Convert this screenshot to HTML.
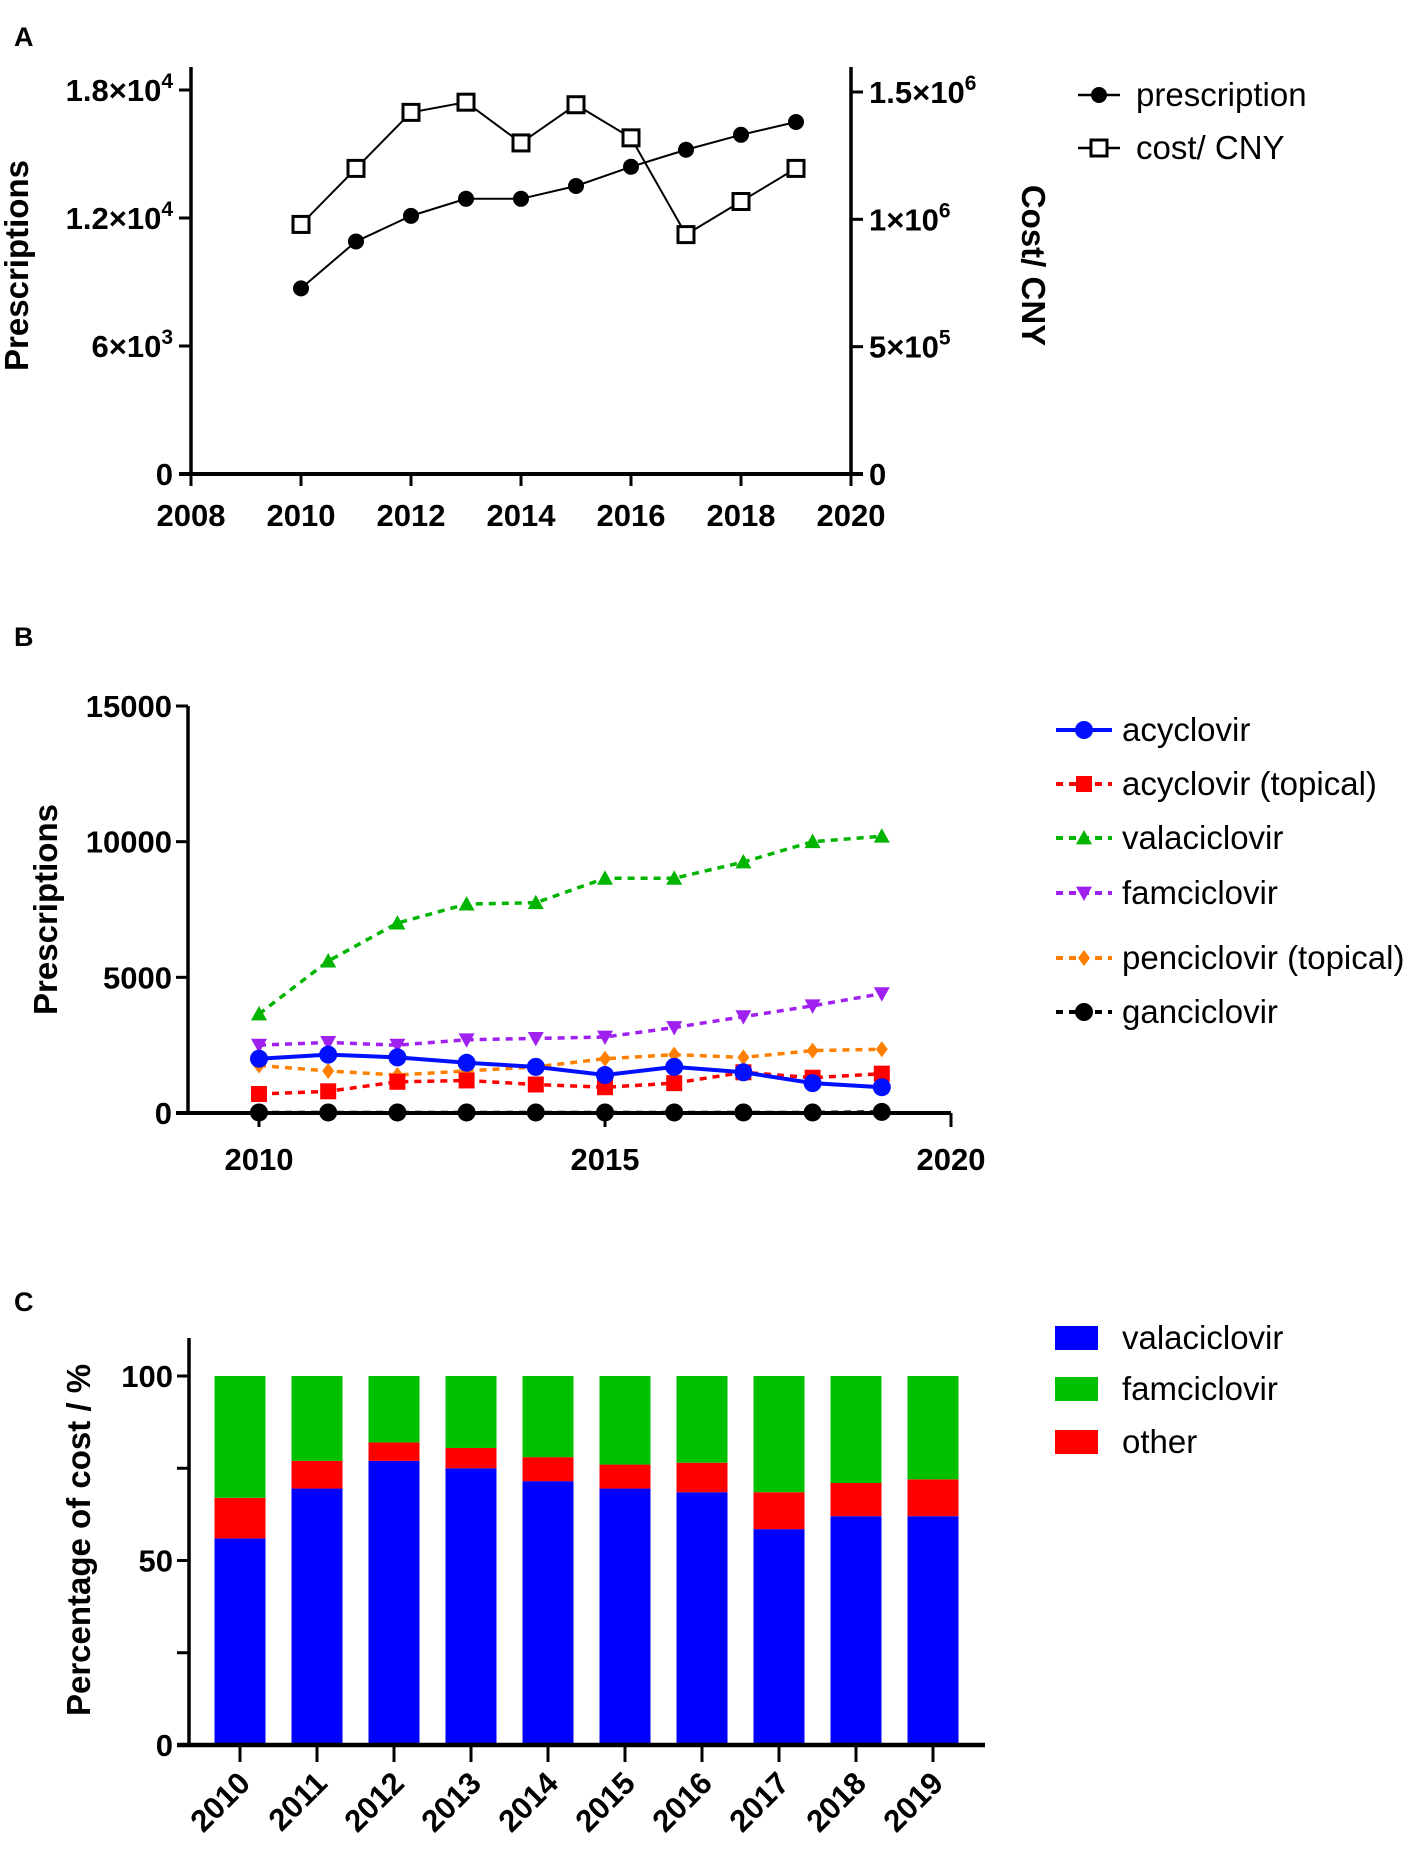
<!DOCTYPE html>
<html><head><meta charset="utf-8">
<style>
html,body{margin:0;padding:0;background:#fff;}
svg{display:block;font-family:"Liberation Sans",sans-serif;}
.tk{font-weight:bold;font-size:31px;fill:#000;}
.lg{font-size:33px;fill:#000;}
.ttl{font-weight:bold;font-size:33px;fill:#000;}
.pl{font-weight:bold;font-size:27px;fill:#000;}
</style></head>
<body>
<svg id="fig" width="1417" height="1857" viewBox="0 0 1417 1857">
<text x="14" y="46" class="pl">A</text>
<text x="14" y="646" class="pl">B</text>
<text x="14" y="1311" class="pl">C</text>
</svg>
<script>
const years = [2010,2011,2012,2013,2014,2015,2016,2017,2018,2019];
const prescriptions = [8700,10900,12100,12900,12900,13500,14400,15200,15900,16500];
const costCNY = [980000,1200000,1420000,1460000,1300000,1450000,1320000,940000,1070000,1200000];
const acyclovir = [2000,2150,2050,1850,1700,1400,1700,1500,1100,950];
const acyclovirTopical = [700,800,1150,1200,1050,950,1100,1500,1300,1450];
const valaciclovir = [3650,5600,7000,7700,7750,8650,8650,9250,10000,10200];
const famciclovir = [2500,2600,2500,2700,2750,2800,3150,3550,3950,4400];
const penciclovirTopical = [1750,1550,1400,1550,1700,2000,2150,2050,2300,2350];
const ganciclovir = [20,20,20,20,20,20,20,20,20,40];
const costValaciclovir = [56,69.5,77,75,71.5,69.5,68.5,58.5,62,62];
const costOther = [11,7.5,5,5.5,6.5,6.5,8,10,9,10];
const costFamciclovir = [33,23,18,19.5,22,24,23.5,31.5,29,28];
const aXTicks = [2008,2010,2012,2014,2016,2018,2020];
const aYTicks = [0,6000,12000,18000];
const aYTickLabels = ['0','6×10|3','1.2×10|4','1.8×10|4'];
const aRTicks = [0,500000,1000000,1500000];
const aRTickLabels = ['0','5×10|5','1×10|6','1.5×10|6'];
const bXTicks = [2010,2015,2020];
const bYTicks = [0,5000,10000,15000];
const cYTicks = [0,25,50,75,100];
const cYTickLabels = ['0','','50','','100'];

const NS='http://www.w3.org/2000/svg';
const svg=document.getElementById('fig');
function mk(tag,attrs,parent){const e=document.createElementNS(NS,tag);for(const k in attrs)e.setAttribute(k,attrs[k]);(parent||svg).appendChild(e);return e;}
function line(x1,y1,x2,y2,w,parent){return mk('line',{x1,y1,x2,y2,stroke:'#000','stroke-width':w},parent);}
function supText(x,y,lab,anchor,parent){
  const t=mk('text',{x,y,class:'tk','text-anchor':anchor},parent);
  const p=lab.split('|');t.textContent=p[0];
  if(p[1]){const s=mk('tspan',{dy:-13,'font-size':21},t);s.textContent=p[1];}
  return t;
}
function marker(shape,x,y,color,parent,sz){
  sz=sz||9;let e;
  if(shape==='circle')e=mk('circle',{cx:x,cy:y,r:sz,fill:color},parent);
  else if(shape==='square')e=mk('rect',{x:x-sz,y:y-sz,width:2*sz,height:2*sz,fill:color},parent);
  else if(shape==='osquare')e=mk('rect',{x:x-sz,y:y-sz,width:2*sz,height:2*sz,fill:'#fff',stroke:'#000','stroke-width':3},parent);
  else if(shape==='tri')e=mk('polygon',{points:`${x},${y-sz} ${x+sz},${y+sz*0.8} ${x-sz},${y+sz*0.8}`,fill:color},parent);
  else if(shape==='itri')e=mk('polygon',{points:`${x},${y+sz} ${x+sz},${y-sz*0.8} ${x-sz},${y-sz*0.8}`,fill:color},parent);
  else if(shape==='diamond')e=mk('polygon',{points:`${x},${y-sz} ${x+sz*0.75},${y} ${x},${y+sz} ${x-sz*0.75},${y}`,fill:color},parent);
  return e;
}

/* ---------- Panel A ---------- */
const gA=mk('g',{});
const aL=191,aR=851,aB=474,aTop=67;
const ax=v=>aL+(v-2008)*(aR-aL)/12;
const ay=v=>aB-v*(aB-90)/18000;
const ar=v=>aB-v*(aB-92)/1500000;
line(aL,aTop,aL,aB+2,3.5,gA);line(aR,aTop,aR,aB+2,3.5,gA);line(aL-12,aB,aR+12,aB,4,gA);
aXTicks.forEach(t=>{line(ax(t),aB,ax(t),aB+12,3,gA);const tx=mk('text',{x:ax(t),y:aB+52,class:'tk','text-anchor':'middle'},gA);tx.textContent=t;});
aYTicks.forEach((t,i)=>{line(aL-12,ay(t),aL,ay(t),3,gA);supText(aL-18,ay(t)+11,aYTickLabels[i],'end',gA);});
aRTicks.forEach((t,i)=>{line(aR,ar(t),aR+12,ar(t),3,gA);supText(aR+18,ar(t)+11,aRTickLabels[i],'start',gA);});
let t1=mk('text',{x:0,y:0,class:'ttl','text-anchor':'middle',transform:`translate(28,${(aTop+aB)/2-5}) rotate(-90)`},gA);t1.textContent='Prescriptions';
let t2=mk('text',{x:0,y:0,class:'ttl','text-anchor':'middle',transform:`translate(1022,${(aTop+aB)/2-5}) rotate(90)`},gA);t2.textContent='Cost/ CNY';
mk('polyline',{points:years.map((y,i)=>ax(y)+','+ay(prescriptions[i])).join(' '),fill:'none',stroke:'#000','stroke-width':2},gA);
mk('polyline',{points:years.map((y,i)=>ax(y)+','+ar(costCNY[i])).join(' '),fill:'none',stroke:'#000','stroke-width':2},gA);
years.forEach((y,i)=>{marker('circle',ax(y),ay(prescriptions[i]),'#000',gA,8);marker('osquare',ax(y),ar(costCNY[i]),'#000',gA,8);});
[['prescription','circle',95],['cost/ CNY','osquare',148]].forEach(([lab,sh,yy])=>{
  const g=mk('g',{},gA);
  line(1078,yy,1120,yy,2.5,g);marker(sh,1099,yy,'#000',g,8);
  const t=mk('text',{x:1136,y:yy+11,class:'lg'},g);t.textContent=lab;});

/* ---------- Panel B ---------- */
const gB=mk('g',{});
const bL=188,bR=951,bB=1113,bTop=706;
const bx=v=>259+(v-2010)*(605-259)/5;
const by=v=>bB-v*(bB-bTop)/15000;
line(bL,bTop,bL,bB+2,3.5,gB);line(bL-12,bB,bR,bB,4,gB);
bXTicks.forEach(t=>{line(bx(t),bB,bx(t),bB+14,3,gB);const tx=mk('text',{x:bx(t),y:bB+57,class:'tk','text-anchor':'middle'},gB);tx.textContent=t;});
bYTicks.forEach(t=>{line(bL-12,by(t),bL,by(t),3,gB);const tx=mk('text',{x:bL-16,y:by(t)+11,class:'tk','text-anchor':'end'},gB);tx.textContent=t;});
let t3=mk('text',{x:0,y:0,class:'ttl','text-anchor':'middle',transform:`translate(57,${(bTop+bB)/2}) rotate(-90)`},gB);t3.textContent='Prescriptions';
const seriesB=[
 ['acyclovir',acyclovir,'#0010ff','circle',null,730],
 ['acyclovir (topical)',acyclovirTopical,'#ff0000','square','7,6',784],
 ['valaciclovir',valaciclovir,'#00b400','tri','7,6',838],
 ['famciclovir',famciclovir,'#a020f0','itri','7,6',893],
 ['penciclovir (topical)',penciclovirTopical,'#ff8000','diamond','7,6',958],
 ['ganciclovir',ganciclovir,'#000','circle','7,6',1012]];
seriesB.slice().reverse().forEach(([name,data,col,sh,dash,ly])=>{
  const g=mk('g',{},gB);
  const a={points:years.map((y,i)=>bx(y)+','+by(data[i])).join(' '),fill:'none',stroke:col,'stroke-width':dash?3.5:4};
  if(dash)a['stroke-dasharray']=dash;mk('polyline',a,g);
  years.forEach((y,i)=>marker(sh,bx(y),by(data[i]),col,g,sh==='circle'?9:8));
});
seriesB.forEach(([name,data,col,sh,dash,ly])=>{
  const g=mk('g',{},gB);
  const a={x1:1056,y1:ly,x2:1112,y2:ly,stroke:col,'stroke-width':4};if(dash)a['stroke-dasharray']=dash;mk('line',a,g);
  marker(sh,1084,ly,col,g,sh==='circle'?9:8);
  const t=mk('text',{x:1122,y:ly+11,class:'lg'},g);t.textContent=name;});

/* ---------- Panel C ---------- */
const gC=mk('g',{});
const cL=189,cR=985,cB=1745,cTop=1338;
const cx=i=>240+i*77;
const cy=v=>cB-v*(cB-1376)/100;
const bw=51;
years.forEach((y,i)=>{
  const segs=[[costValaciclovir[i],'#0000ff','valaciclovir'],[costOther[i],'#ff0000','other'],[costFamciclovir[i],'#00c000','famciclovir']];
  let base=0;
  segs.forEach(([v,col,nm])=>{
    const r=mk('rect',{x:cx(i)-bw/2,y:cy(base+v),width:bw,height:cy(base)-cy(base+v),fill:col},gC);
    
    
    base+=v;});
});
line(cL,cTop,cL,cB+2,3.5,gC);line(cL-12,cB,cR,cB,4.5,gC);
cYTicks.forEach((t,i)=>{line(cL-12,cy(t),cL,cy(t),3,gC);if(cYTickLabels[i]){const tx=mk('text',{x:cL-16,y:cy(t)+11,class:'tk','text-anchor':'end'},gC);tx.textContent=cYTickLabels[i];}});
years.forEach((y,i)=>{line(cx(i),cB,cx(i),cB+17,3,gC);
  const tx=mk('text',{x:0,y:0,class:'tk','text-anchor':'end',transform:`translate(${cx(i)+12},${cB+40}) rotate(-45)`},gC);tx.textContent=y;});
let t4=mk('text',{x:0,y:0,class:'ttl','text-anchor':'middle',transform:`translate(90,${(1360+1720)/2}) rotate(-90)`},gC);t4.setAttribute('font-size','34');t4.textContent='Percentage of cost / %';
[['valaciclovir','#0000ff',1338],['famciclovir','#00c000',1389],['other','#ff0000',1442]].forEach(([nm,col,ly])=>{
  const g=mk('g',{},gC);
  mk('rect',{x:1055,y:ly-12,width:43,height:24,fill:col},g);
  const t=mk('text',{x:1122,y:ly+11,class:'lg'},g);t.textContent=nm;});
</script>
</body></html>
